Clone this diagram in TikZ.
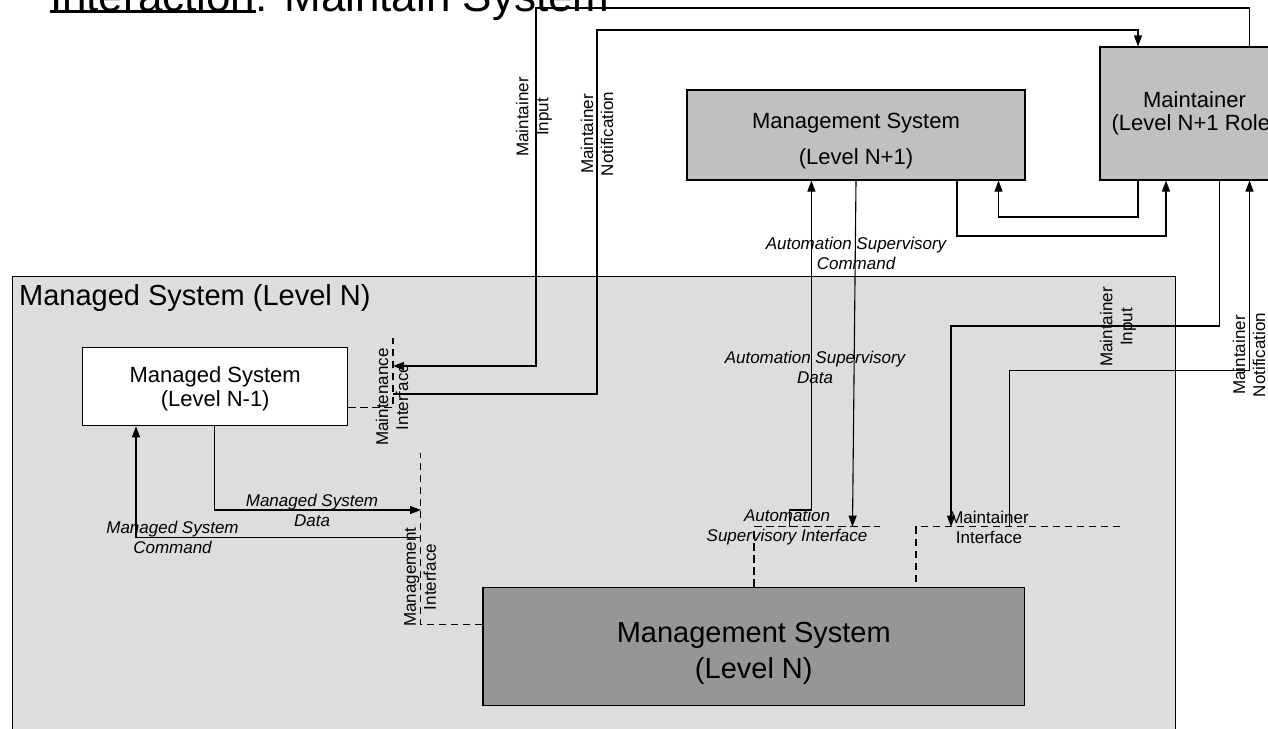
\documentclass[tikz,border=0pt]{standalone}
\usepackage{fontspec}
\setmainfont{Liberation Sans}
\usetikzlibrary{arrows.meta}
\definecolor{outerfill}{HTML}{DDDDDD}
\definecolor{boxgray}{HTML}{C0C0C0}
\definecolor{mgmtgray}{HTML}{969696}
\begin{document}
\begin{tikzpicture}[x=1pt,y=-1pt,
  blk/.style={draw=black, line width=1.1pt, inner sep=0pt, align=center},
  conn/.style={line width=1.1pt, -{Triangle[length=11pt,width=8pt]}},
  iface/.style={line width=1.1pt, dash pattern=on 7.5pt off 4.5pt},
  lbl/.style={inner sep=0pt, align=center, font=\fontsize{17}{20}\selectfont\itshape},
  rlbl/.style={inner sep=0pt, align=center, rotate=90, font=\fontsize{17}{20}\selectfont}]
\useasboundingbox (0,0) rectangle (1268,728);
\clip (0,0) rectangle (1268,728);

% outer managed system box
\node[blk, fill=outerfill, minimum width=1163.2pt, minimum height=463.3pt] (outer) at (593.9,508.35) {};
\node[anchor=base west, inner sep=0pt, font=\fontsize{29}{34}\selectfont] (outerlbl) at (19,305.5) {Managed System (Level N)};

% title
\node[anchor=base west, inner sep=0pt, font=\fontsize{44}{50}\selectfont] (t1) at (49.8,12) {Interaction};
\node[anchor=base west, inner sep=0pt, font=\fontsize{44}{50}\selectfont] (t2) at (t1.base east) {: Maintain System};
\draw[line width=3pt] ([yshift=1pt]t1.base west) -- ([yshift=1pt]t1.base east);

% boxes
\node[blk, fill=white, minimum width=265pt, minimum height=78pt, font=\fontsize{22}{24}\selectfont] (N1) at (215.2,386.7) {\rule{0pt}{20pt}Managed System\\(Level N-1)};
\node[blk, fill=boxgray, minimum width=338pt, minimum height=90pt, font=\fontsize{22}{35.5}\selectfont] (N2) at (856,135) {\rule{0pt}{28pt}Management System\\(Level N+1)};
\node[blk, fill=boxgray, minimum width=189pt, minimum height=133pt, font=\fontsize{22}{23}\selectfont] (MT) at (1194.5,113.5) {Maintainer\\(Level N+1 Role)};
\node[blk, fill=mgmtgray, minimum width=541.6pt, minimum height=118.7pt, font=\fontsize{29}{36}\selectfont] (MG) at (753.8,646.4) {\rule{0pt}{34pt}Management System\\(Level N)};

% coordinates
\coordinate (a1) at (1249.5,8);
\coordinate (a2) at (536,8);
\coordinate (a3) at (536,366);
\coordinate (a4) at (393,366);
\coordinate (b1) at (393,394);
\coordinate (b2) at (597,394);
\coordinate (b3) at (597,30);
\coordinate (b4) at (1138,30);
\coordinate (c1) at (957,236);
\coordinate (c2) at (1166,236);
\coordinate (d1) at (1138,217);
\coordinate (d2) at (998.5,217);
\coordinate (e1) at (789.3,526.7);
\coordinate (e2) at (789.3,510);
\coordinate (e3) at (811.4,510);
\coordinate (f0) at (856,0);
\coordinate (f1) at (852.5,526.7);
\coordinate (g1) at (1219.5,326);
\coordinate (g2) at (951,326);
\coordinate (g3) at (951,526.7);
\coordinate (h1) at (1009.5,526.7);
\coordinate (h2) at (1009.5,370.7);
\coordinate (h3) at (1249.5,370.7);
\coordinate (i1) at (214.3,510);
\coordinate (i2) at (421,510);
\coordinate (j1) at (420.7,537.5);
\coordinate (j2) at (136,537.5);
\coordinate (k1) at (393,407.5);
\coordinate (k2) at (393,338);
\coordinate (l1) at (420.7,624.3);
\coordinate (l2) at (420.7,453);
\coordinate (m1) at (754,526.7);
\coordinate (m2) at (880,526.7);
\coordinate (n0) at (916,582);
\coordinate (n1) at (916,526.7);
\coordinate (n2) at (1120.6,526.7);

% interfaces (dashed)
\draw[iface] (N1.east |- k1) -- (k1) -- (k2);
\draw[iface] (MG.west |- l1) -- (l1) -- (l2);
\draw[iface] (MG.north -| m1) -- (m1) -- (m2);
\draw[iface] (n0) -- (n1) -- (n2);

% connectors
\draw[conn] (MT.north -| a1) -- (a1) -- (a2) -- (a3) -- (a4);
\draw[conn] (b1) -- (b2) -- (b3) -- (b4) -- (MT.north -| b4);
\draw[conn] (N2.south -| c1) -- (c1) -- (c2) -- (MT.south -| c2);
\draw[conn] (MT.south -| d1) -- (d1) -- (d2) -- (N2.south -| d2);
\draw[conn] (e1) -- (e2) -- (e3) -- (N2.south -| e3);
\draw[conn] (N2.south -| f0) -- (f1);
\draw[conn] (MT.south -| g1) -- (g1) -- (g2) -- (g3);
\draw[conn] (h1) -- (h2) -- (h3) -- (MT.south -| h3);
\draw[conn] (N1.south -| i1) -- (i1) -- (i2);
\draw[conn] (j1) -- (j2) -- (N1.south -| j2);

% labels
\node[lbl] (Lascmd) at (856,253) {Automation Supervisory\\Command};
\node[lbl] (Lasdata) at (815,367) {Automation Supervisory\\Data};
\node[lbl] (Lmsdata) at (312,510) {Managed System\\Data};
\node[lbl] (Lmscmd) at (172.5,537) {Managed System\\Command};
\node[lbl] (Lasi) at (787,527) {Automation\\Supervisory Interface};
\node[lbl, font=\fontsize{17}{20}\selectfont] (Lmi) at (989,527) {Maintainer\\Interface};
\node[rlbl] (Lmi1) at (534,117) {Maintainer\\Input};
\node[rlbl] (Lmn1) at (597,134) {Maintainer\\Notification};
\node[rlbl] (Lmi2) at (1118,327) {Maintainer\\Input};
\node[rlbl] (Lmn2) at (1249,355) {Maintainer\\Notification};
\node[rlbl] (Lmnt) at (392,397) {Maintenance\\Interface};
\node[rlbl] (Lmgi) at (420,577) {Management\\Interface};
\end{tikzpicture}
\end{document}
